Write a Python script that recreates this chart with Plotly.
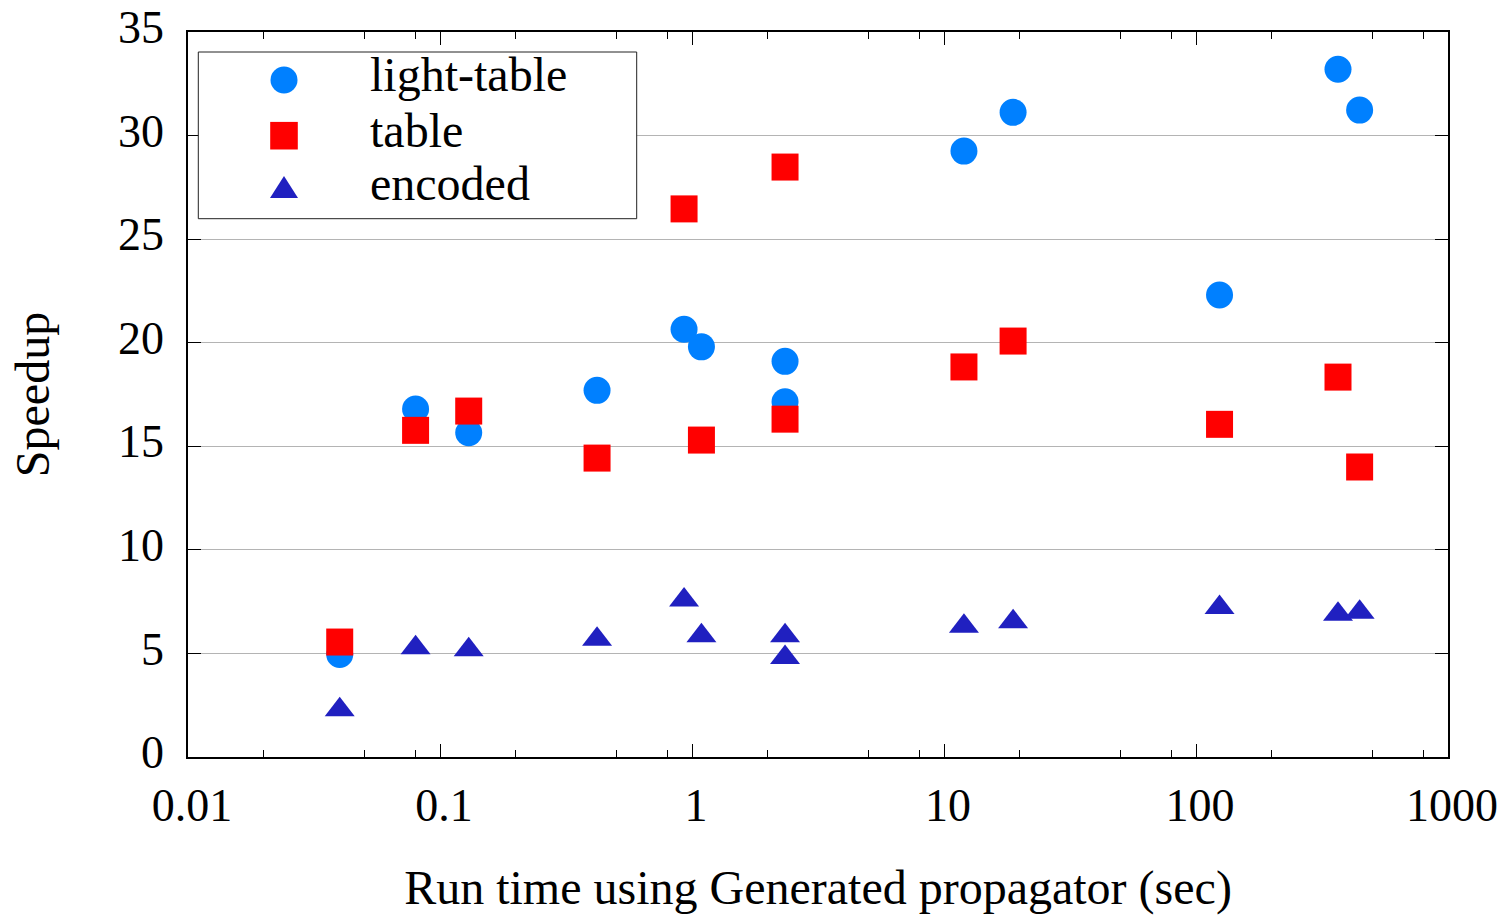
import plotly.graph_objects as go

# ---- data ----
run_time_light = [0.04, 0.08, 0.13, 0.42, 0.93, 1.09, 2.34, 2.34, 12.0, 18.8, 124.0, 366.0, 446.0]
speedup_light = [4.95, 16.8, 15.65, 17.7, 20.65, 19.8, 19.1, 17.15, 29.25, 31.12, 22.3, 33.2, 31.23]

run_time_table = [0.04, 0.08, 0.13, 0.42, 0.93, 1.09, 2.34, 2.34, 12.0, 18.8, 124.0, 366.0, 446.0]
speedup_table = [5.55, 15.77, 16.7, 14.43, 26.46, 15.3, 28.48, 16.31, 18.83, 20.08, 16.06, 18.34, 14.0]

run_time_encoded = [0.04, 0.08, 0.13, 0.42, 0.93, 1.09, 2.34, 2.34, 12.0, 18.8, 124.0, 366.0, 446.0]
speedup_encoded = [2.28, 5.28, 5.18, 5.69, 7.58, 5.85, 5.85, 4.8, 6.31, 6.53, 7.22, 6.89, 6.99]

series_names = ["light-table", "table", "encoded"]
x_tickvals = [0.01, 0.1, 1, 10, 100, 1000]
x_ticktext = ["0.01", "0.1", "1", "10", "100", "1000"]
y_tickvals = [0, 5, 10, 15, 20, 25, 30, 35]

# ---- style ----
FONT = "Liberation Serif"
C_LIGHT = "#0080ff"
C_TABLE = "#ff0000"
C_ENC = "#2020c0"

W, H = 1510, 918
ML, MR, MT, MB = 188, 62, 32, 161
PW, PH = W - ML - MR, H - MT - MB

def px(xp):
    return (xp - ML) / PW

def py(yp):
    return 1 - (yp - MT) / PH

fig = go.Figure()
fig.add_trace(go.Scatter(x=run_time_light, y=speedup_light, mode="markers", name=series_names[0],
                         marker=dict(symbol="circle", size=27, color=C_LIGHT, line=dict(width=0)),
                         showlegend=False))
fig.add_trace(go.Scatter(x=run_time_table, y=speedup_table, mode="markers", name=series_names[1],
                         marker=dict(symbol="square", size=27, color=C_TABLE, line=dict(width=0)),
                         showlegend=False))
fig.add_trace(go.Scatter(x=run_time_encoded, y=speedup_encoded, mode="markers", name=series_names[2],
                         marker=dict(symbol="triangle-up", size=26, color=C_ENC, line=dict(width=0)),
                         showlegend=False))

minor_x = [v * m for v in x_tickvals[:-1] for m in (2, 5, 8)]

fig.update_xaxes(
    type="log", range=[-2, 3], automargin=False,
    tickmode="array", tickvals=x_tickvals, ticktext=x_ticktext,
    ticks="inside", ticklen=13, tickwidth=1, tickcolor="black",
    showline=True, linecolor="black", linewidth=1.5, mirror="ticks",
    showgrid=False, zeroline=False,
    minor=dict(tickmode="array", tickvals=minor_x, ticks="inside", ticklen=7,
               tickwidth=1, tickcolor="black", showgrid=False),
    tickfont=dict(family=FONT, size=46, color="black"),
    ticklabelstandoff=7, ticklabelshift=4,
    title=dict(text="Run time using Generated propagator (sec)",
               font=dict(family=FONT, size=48, color="black"), standoff=40),
)
fig.update_yaxes(
    range=[0, 35], automargin=False, tickmode="array", tickvals=y_tickvals,
    ticks="inside", ticklen=13, tickwidth=1, tickcolor="black",
    showline=True, linecolor="black", linewidth=1.5, mirror="ticks",
    showgrid=True, gridcolor="#b4b4b4", gridwidth=1, zeroline=False,
    tickfont=dict(family=FONT, size=46, color="black"),
    ticklabelstandoff=13, ticklabelshift=-5,
    title=dict(text="Speedup", font=dict(family=FONT, size=48, color="black"), standoff=53),
)

# ---- legend box (drawn manually to match large keys) ----
shapes = [dict(type="rect", xref="paper", yref="paper",
               x0=px(198.3), x1=px(636.7), y0=py(218.7), y1=py(52),
               line=dict(color="#222222", width=1), fillcolor="white", layer="above")]
key_x = px(284)
shapes.append(dict(type="circle", xref="paper", yref="paper", xsizemode="pixel", ysizemode="pixel",
                   xanchor=key_x, yanchor=py(80), x0=-13.5, x1=13.5, y0=-13.5, y1=13.5,
                   fillcolor=C_LIGHT, line=dict(width=0), layer="above"))
shapes.append(dict(type="rect", xref="paper", yref="paper", xsizemode="pixel", ysizemode="pixel",
                   xanchor=key_x, yanchor=py(135.7), x0=-13.8, x1=13.8, y0=-13.8, y1=13.8,
                   fillcolor=C_TABLE, line=dict(width=0), layer="above"))
shapes.append(dict(type="path", xref="paper", yref="paper", xsizemode="pixel", ysizemode="pixel",
                   xanchor=key_x, yanchor=py(187),
                   path="M -14,-11 L 14,-11 L 0,11 Z",
                   fillcolor=C_ENC, line=dict(width=0), layer="above"))

annotations = []
for name, yc in zip(series_names, [74.4, 130.4, 183.7]):
    annotations.append(dict(text=name, xref="paper", yref="paper", x=px(368), y=py(yc),
                            xanchor="left", yanchor="middle", showarrow=False,
                            font=dict(family=FONT, size=48, color="black")))

fig.update_layout(
    width=W, height=H,
    margin=dict(l=ML, r=MR, t=MT, b=MB, autoexpand=False),
    paper_bgcolor="white", plot_bgcolor="white",
    shapes=shapes, annotations=annotations,
    showlegend=False,
)

fig.write_html("out.html", config={"displayModeBar": False},
               post_script="document.body.style.margin='0';document.body.style.overflow='hidden';")
